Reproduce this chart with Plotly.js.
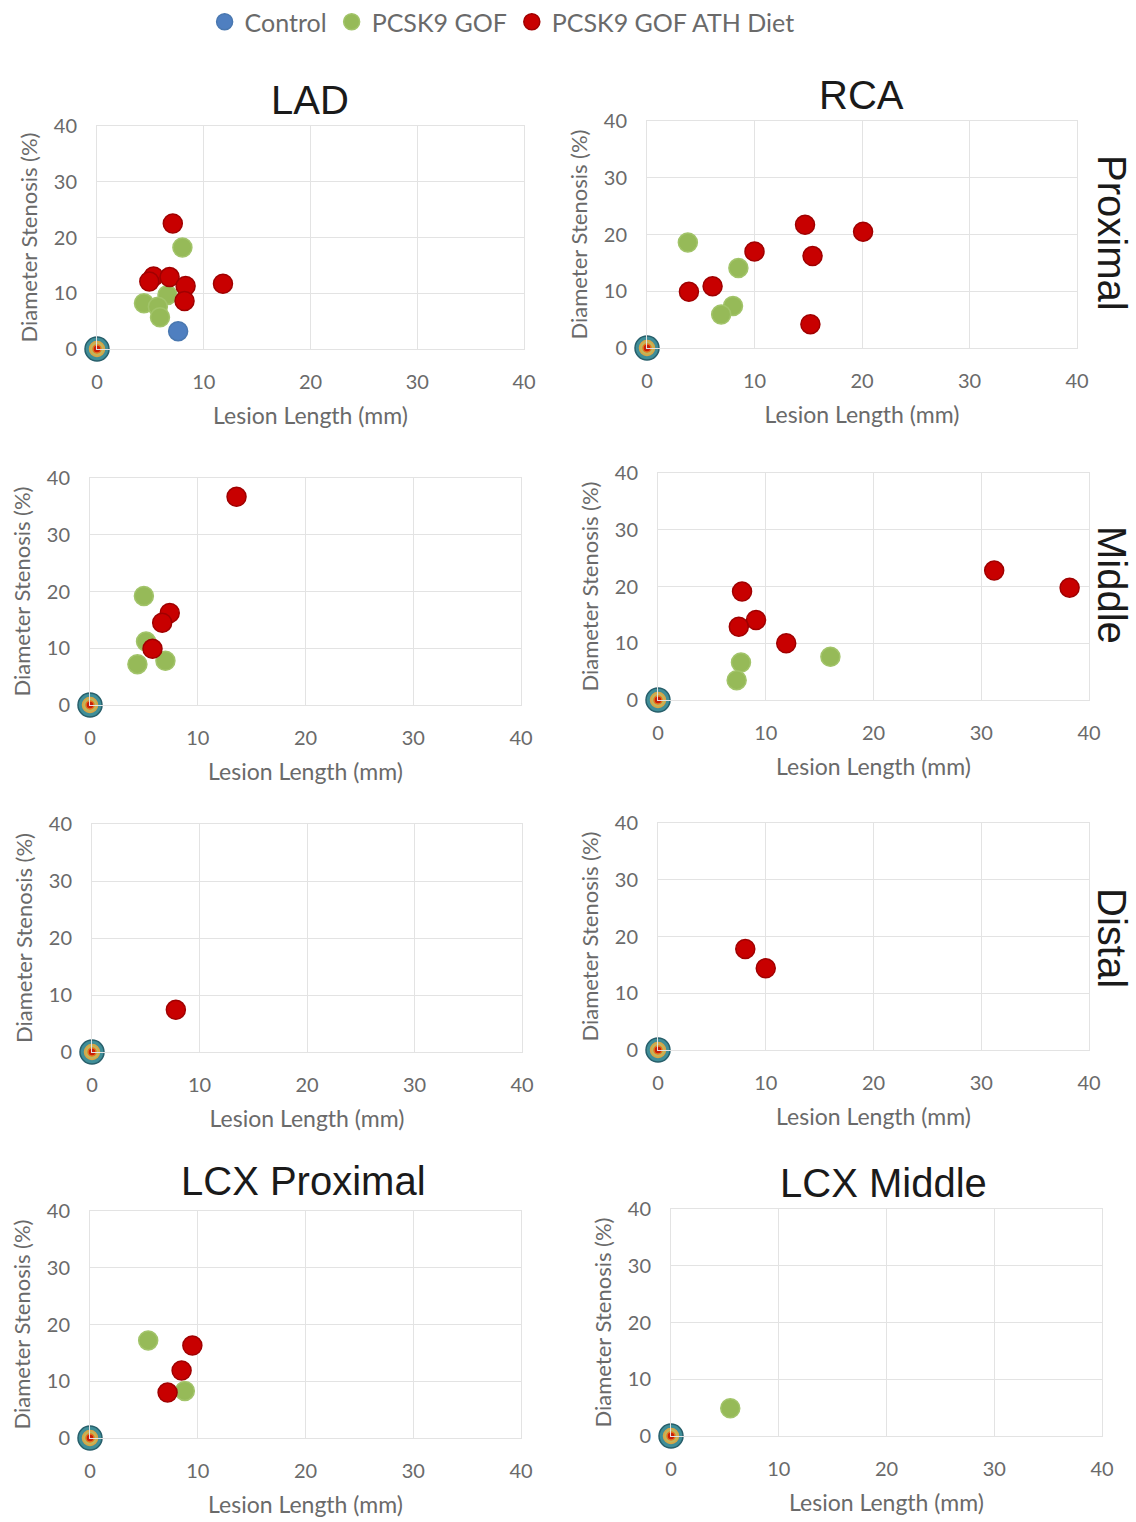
<!DOCTYPE html>
<html><head><meta charset="utf-8">
<script src="https://cdn.plot.ly/plotly-3.0.1.min.js"></script>
<style>html,body{margin:0;padding:0;background:#fff}#chart{width:1136px;height:1522px}</style>
</head><body><div id="chart"></div>
<script>
// ---------- DATA ----------
const seriesNames = ['Control', 'PCSK9 GOF', 'PCSK9 GOF ATH Diet'];
const tickVals = [0, 10, 20, 30, 40];
const tickText = ['0', '10', '20', '30', '40'];
const xAxisTitleText = 'Lesion Length (mm)';
const yAxisTitleText = 'Diameter Stenosis (%)';
const columnTitles = ['LAD', 'RCA'];
const rowTitles = ['Proximal', 'Middle', 'Distal'];
const bottomTitles = ['LCX Proximal', 'LCX Middle'];

// LAD Proximal
const ladProxControlX = [7.6, 0];
const ladProxControlY = [3.2, 0];
const ladProxGofX = [8.0, 4.4, 6.6, 5.7, 5.9, 0];
const ladProxGofY = [18.2, 8.2, 9.7, 7.6, 5.7, 0];
const ladProxAthX = [7.1, 5.3, 6.8, 4.9, 8.3, 8.2, 11.8, 0];
const ladProxAthY = [22.5, 13.0, 12.9, 12.1, 11.3, 8.6, 11.7, 0];
// RCA Proximal
const rcaProxControlX = [0];
const rcaProxControlY = [0];
const rcaProxGofX = [3.8, 8.5, 8.0, 6.9, 0];
const rcaProxGofY = [18.6, 14.1, 7.4, 5.9, 0];
const rcaProxAthX = [14.7, 20.1, 10.0, 15.4, 6.1, 3.9, 15.2, 0];
const rcaProxAthY = [21.7, 20.5, 17.0, 16.2, 10.9, 9.9, 4.2, 0];
// LAD Middle
const ladMidControlX = [0];
const ladMidControlY = [0];
const ladMidGofX = [5.0, 5.2, 4.4, 7.0, 0];
const ladMidGofY = [19.2, 11.2, 7.2, 7.8, 0];
const ladMidAthX = [13.6, 7.4, 6.7, 5.8, 0];
const ladMidAthY = [36.7, 16.2, 14.5, 9.9, 0];
// RCA Middle
const rcaMidControlX = [0];
const rcaMidControlY = [0];
const rcaMidGofX = [16.0, 7.7, 7.3, 0];
const rcaMidGofY = [7.6, 6.6, 3.5, 0];
const rcaMidAthX = [31.2, 38.2, 7.8, 9.1, 7.5, 11.9, 0];
const rcaMidAthY = [22.8, 19.8, 19.1, 14.1, 12.9, 10.0, 0];
// LAD Distal
const ladDistControlX = [0];
const ladDistControlY = [0];
const ladDistGofX = [0];
const ladDistGofY = [0];
const ladDistAthX = [7.8, 0];
const ladDistAthY = [7.4, 0];
// RCA Distal
const rcaDistControlX = [0];
const rcaDistControlY = [0];
const rcaDistGofX = [0];
const rcaDistGofY = [0];
const rcaDistAthX = [8.1, 10.0, 0];
const rcaDistAthY = [17.8, 14.4, 0];
// LCX Proximal
const lcxProxControlX = [0];
const lcxProxControlY = [0];
const lcxProxGofX = [5.4, 8.8, 0];
const lcxProxGofY = [17.2, 8.3, 0];
const lcxProxAthX = [9.5, 8.5, 7.2, 0];
const lcxProxAthY = [16.3, 11.9, 8.0, 0];
// LCX Middle
const lcxMidControlX = [0];
const lcxMidControlY = [0];
const lcxMidGofX = [5.5, 0];
const lcxMidGofY = [4.9, 0];
const lcxMidAthX = [0];
const lcxMidAthY = [0];

// ---------- LAYOUT / STYLE ----------
const W = 1136, H = 1522;
const panels = [
  {box: [97, 524, 126, 349], s: [[ladProxControlX, ladProxControlY], [ladProxGofX, ladProxGofY], [ladProxAthX, ladProxAthY]]},
  {box: [647, 1077, 121, 348], s: [[rcaProxControlX, rcaProxControlY], [rcaProxGofX, rcaProxGofY], [rcaProxAthX, rcaProxAthY]]},
  {box: [90, 521, 478, 705], s: [[ladMidControlX, ladMidControlY], [ladMidGofX, ladMidGofY], [ladMidAthX, ladMidAthY]]},
  {box: [658, 1089, 473, 700], s: [[rcaMidControlX, rcaMidControlY], [rcaMidGofX, rcaMidGofY], [rcaMidAthX, rcaMidAthY]]},
  {box: [92, 522, 824, 1052], s: [[ladDistControlX, ladDistControlY], [ladDistGofX, ladDistGofY], [ladDistAthX, ladDistAthY]]},
  {box: [658, 1089, 823, 1050], s: [[rcaDistControlX, rcaDistControlY], [rcaDistGofX, rcaDistGofY], [rcaDistAthX, rcaDistAthY]]},
  {box: [90, 521, 1211, 1438], s: [[lcxProxControlX, lcxProxControlY], [lcxProxGofX, lcxProxGofY], [lcxProxAthX, lcxProxAthY]]},
  {box: [671, 1102, 1209, 1436], s: [[lcxMidControlX, lcxMidControlY], [lcxMidGofX, lcxMidGofY], [lcxMidAthX, lcxMidAthY]]}
];

const fill = ['#4F7FC0', '#96BA58', '#C80000'];
const edge = ['#4A78B0', '#A2C46A', '#A00000'];
const originFill = ['#3F8E98', '#C2B65A', '#C81E0A'];
const originEdge = ['#285F6B', '#D9A544', '#E8741E'];
const originSize = [24, 15, 8];
const normalSize = 19;

const FAM = 'Lato, "Open Sans", sans-serif';
const tickFont = {family: FAM, size: 20, color: '#6a6a6a'};
const xTitleFont = {family: FAM, size: 23, color: '#6a6a6a'};
const yTitleFont = {family: FAM, size: 22, color: '#6a6a6a'};

const traces = [];
const layout = {
  width: W, height: H,
  margin: {l: 0, r: 0, t: 0, b: 0, autoexpand: false},
  paper_bgcolor: '#ffffff', plot_bgcolor: '#ffffff',
  showlegend: true,
  legend: {orientation: 'h', x: 0.442, xanchor: 'center', y: 1 - 22 / H, yanchor: 'middle',
           font: {family: FAM, size: 25, color: '#6a6a6a'},
           itemsizing: 'trace', traceorder: 'normal', bgcolor: 'rgba(0,0,0,0)'},
  annotations: []
};

panels.forEach((p, i) => {
  const n = i + 1;
  const sfx = n === 1 ? '' : String(n);
  const [x0, x1, y0, y1] = p.box;
  const common = {
    range: [0, 40], tickvals: tickVals, ticktext: tickText, fixedrange: true,
    showgrid: true, gridcolor: '#e3e3e3', gridwidth: 1, zeroline: false,
    showline: true, linecolor: '#e3e3e3', mirror: true,
    ticks: 'outside', ticklen: 15, tickcolor: 'rgba(0,0,0,0)', tickfont: tickFont
  };
  layout['xaxis' + sfx] = Object.assign({}, common, {
    domain: [x0 / W, x1 / W], anchor: 'y' + sfx,
    title: {text: xAxisTitleText, font: xTitleFont, standoff: 15}
  });
  layout['yaxis' + sfx] = Object.assign({}, common, {
    domain: [1 - y1 / H, 1 - y0 / H], anchor: 'x' + sfx,
    title: {text: yAxisTitleText, font: yTitleFont, standoff: 10}
  });
  p.s.forEach((xy, k) => {
    const [xs, ys] = xy;
    const isOrigin = xs.map((v, j) => v === 0 && ys[j] === 0);
    traces.push({
      type: 'scatter', mode: 'markers', x: xs, y: ys,
      xaxis: 'x' + sfx, yaxis: 'y' + sfx,
      name: seriesNames[k], legendgroup: seriesNames[k], showlegend: i === 0,
      cliponaxis: false, hoverinfo: 'x+y+name',
      marker: {
        symbol: 'circle', opacity: 1,
        size: isOrigin.map(o => o ? originSize[k] : normalSize),
        color: isOrigin.map(o => o ? originFill[k] : fill[k]),
        line: {color: isOrigin.map(o => o ? originEdge[k] : edge[k]), width: 1.5}
      }
    });
  });
});

const bigFont = {family: '"Liberation Sans", Arial, sans-serif', size: 40, color: '#1a1a1a'};
[[310, 100], [861, 95]].forEach((pos, i) => {
  layout.annotations.push({text: columnTitles[i], xref: 'paper', yref: 'paper',
    x: pos[0] / W, y: 1 - pos[1] / H, xanchor: 'center', yanchor: 'middle', showarrow: false, font: bigFont});
});
[[303, 1181], [883, 1183]].forEach((pos, i) => {
  layout.annotations.push({text: bottomTitles[i], xref: 'paper', yref: 'paper',
    x: pos[0] / W, y: 1 - pos[1] / H, xanchor: 'center', yanchor: 'middle', showarrow: false, font: bigFont});
});
[[1112, 233], [1112, 585], [1112, 938]].forEach((pos, i) => {
  layout.annotations.push({text: rowTitles[i], xref: 'paper', yref: 'paper', textangle: 90,
    x: pos[0] / W, y: 1 - pos[1] / H, xanchor: 'center', yanchor: 'middle', showarrow: false, font: bigFont});
});

Plotly.newPlot('chart', traces, layout, {displayModeBar: false, staticPlot: true});
</script>
</body></html>
